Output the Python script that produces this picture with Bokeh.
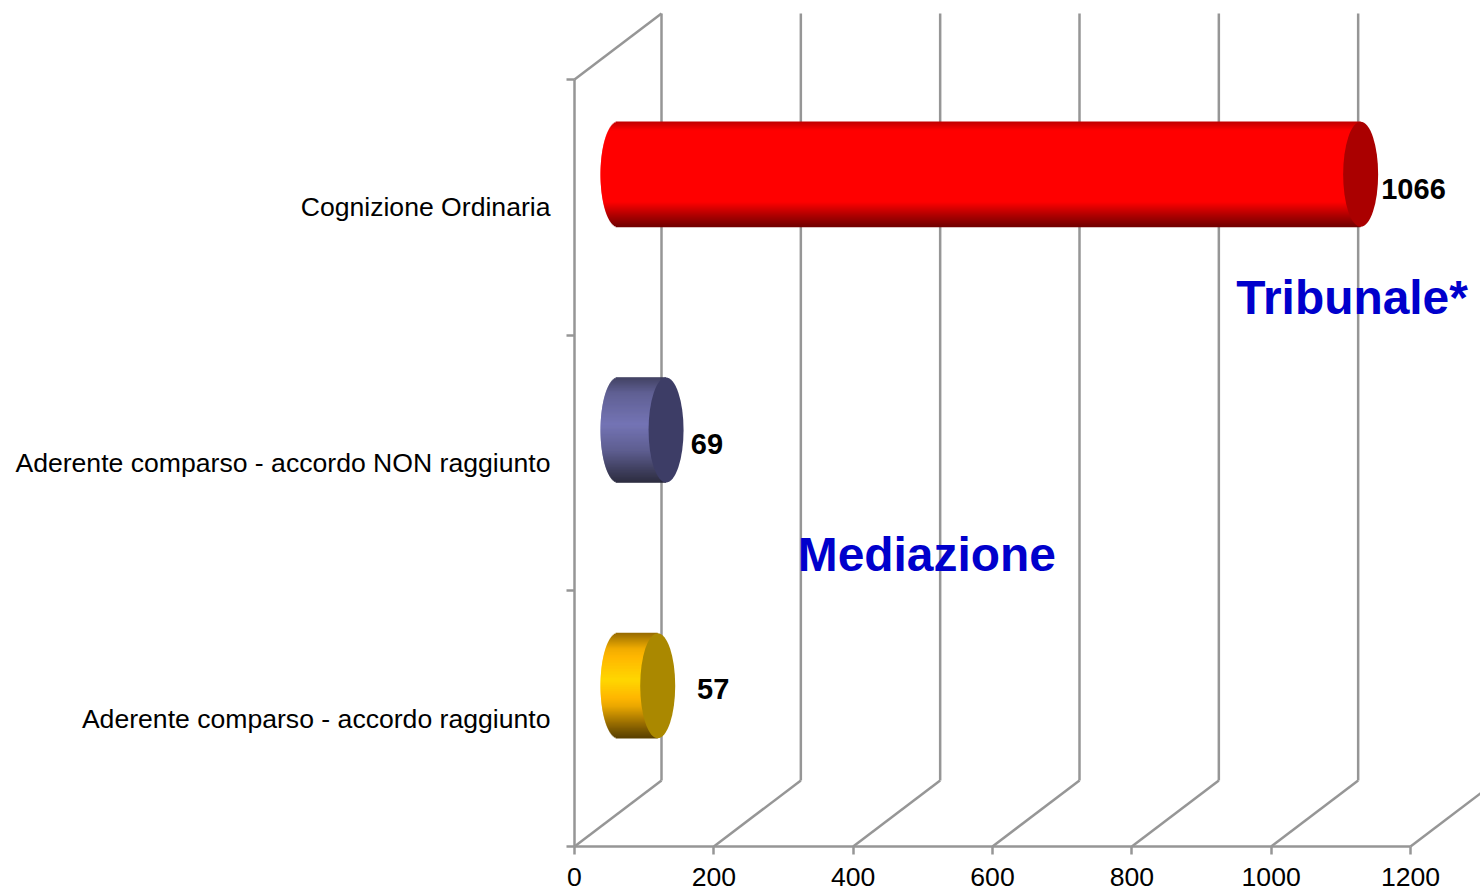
from bokeh.plotting import figure
from bokeh.models import FixedTicker, ColumnDataSource
from bokeh.embed import file_html
from bokeh.resources import INLINE
from bokeh.core.properties import value as V

# data
categories = ["Aderente comparso - accordo raggiunto",
              "Aderente comparso - accordo NON raggiunto",
              "Cognizione Ordinaria"]
values = [57, 69, 1066]
value_labels = ["57", "69", "1066"]
x_ticks = [0, 200, 400, 600, 800, 1000, 1200]
side_colors = [(300, 215, 0), (107, 107, 176), (380, 0, 0)]
cap_colors = ["#AA8800", "#3D3D66", "#AA0000"]
annotations = ["Mediazione", "Tribunale*"]

FONT = "Liberation Sans"
GRAY = "#969696"
LW = 2.5
PX_X = 836 / 1200       # px per value unit
PX_Y = 767 / 3          # px per category band
DX, DY = 87 / PX_X, 66 / PX_Y
BAR_H = 105 / PX_Y
CAP_W = 35 / PX_X

p = figure(width=1480, height=890, output_backend="svg", toolbar_location=None,
           x_range=(-574 / PX_X, 906 / PX_X), y_range=(-44 / PX_Y, 846 / PX_Y),
           min_border_left=0, min_border_right=0, min_border_top=0, min_border_bottom=0,
           outline_line_color=None, background_fill_color="white", border_fill_color="white")
p.grid.visible = False

# axes
xa, ya = p.xaxis[0], p.yaxis[0]
xa.fixed_location = 0
xa.ticker = FixedTicker(ticks=x_ticks)
xa.bounds = (0, 1200)
xa.axis_line_color = GRAY
xa.axis_line_width = LW
xa.major_tick_line_color = GRAY
xa.major_tick_line_width = LW
xa.major_tick_in = 0
xa.major_tick_out = 8
xa.minor_tick_line_color = None
xa.major_label_text_font = FONT
xa.major_label_text_font_size = "26.6px"
xa.major_label_text_color = "black"
xa.major_label_standoff = 13

ya.fixed_location = 0
ya.ticker = FixedTicker(ticks=[0.5, 1.5, 2.5], minor_ticks=[0, 1, 2, 3])
ya.bounds = (0, 3)
ya.major_label_overrides = {i + 0.5: c for i, c in enumerate(categories)}
ya.axis_line_color = GRAY
ya.axis_line_width = LW
ya.major_tick_line_color = None
ya.major_tick_in = 0
ya.major_tick_out = 0
ya.minor_tick_line_color = GRAY
ya.minor_tick_line_width = LW
ya.minor_tick_in = 0
ya.minor_tick_out = 8
ya.major_label_text_font = FONT
ya.major_label_text_font_size = "26.6px"
ya.major_label_text_color = "black"
ya.major_label_standoff = 16

# 3D walls
p.segment(x0=x_ticks, y0=[0] * 7, x1=[t + DX for t in x_ticks], y1=[DY] * 7,
          line_color=GRAY, line_width=LW)
p.segment(x0=[t + DX for t in x_ticks], y0=[DY] * 7,
          x1=[t + DX for t in x_ticks], y1=[3 + DY] * 7,
          line_color=GRAY, line_width=LW)
p.segment(x0=[0], y0=[3], x1=[DX], y1=[3 + DY], line_color=GRAY, line_width=LW)


# cylinders: thin horizontal slices shade the side, an ellipse closes the end
def shade(t):
    stops = [(0.0, 0.50), (0.15, 0.80), (0.45, 1.0), (0.70, 0.78), (0.90, 0.45), (1.0, 0.30)]
    for (a, fa), (b, fb) in zip(stops, stops[1:]):
        if t <= b:
            return fa + (fb - fa) * (t - a) / (b - a)
    return stops[-1][1]


N = 105
for i, (val, base, cap) in enumerate(zip(values, side_colors, cap_colors)):
    yc = i + 0.5 + DY / 2
    x0, x1 = DX / 2, val + DX / 2
    ys, lefts, rights, cols = [], [], [], []
    for k in range(N):
        t = (k + 0.5) / N
        u = 2 * t - 1
        f = shade(t)
        ys.append(yc + BAR_H / 2 - t * BAR_H)
        lefts.append(x0 - CAP_W / 2 * (1 - u * u) ** 0.5)
        rights.append(x1)
        cols.append("#%02x%02x%02x" % tuple(min(255, int(c * f)) for c in base))
    src = ColumnDataSource(dict(y=ys, left=lefts, right=rights, color=cols))
    p.hbar(y="y", left="left", right="right", height=1.7 / PX_Y, fill_color="color",
           line_color=None, source=src)
    p.ellipse(x=[x1], y=[yc], width=CAP_W, height=BAR_H, fill_color=cap, line_color=None)

# value labels
offsets = [119, 98, 92]
label_y = [(846 - 688) / PX_Y, (846 - 443) / PX_Y, (846 - 188) / PX_Y]
p.text(x=[v + o for v, o in zip(values, offsets)], y=label_y, text=value_labels,
       text_font=V(FONT), text_font_style="bold", text_font_size="29px",
       text_color="black", text_align="left", text_baseline="middle")

# annotations
p.text(x=[320.5, 950], y=[(846 - 554) / PX_Y, (846 - 297) / PX_Y], text=annotations,
       text_font=V(FONT), text_font_style="bold", text_font_size="47.9px",
       text_color="#0000CC", text_align="left", text_baseline="middle")

open("out.html", "w").write(file_html(p, INLINE))
